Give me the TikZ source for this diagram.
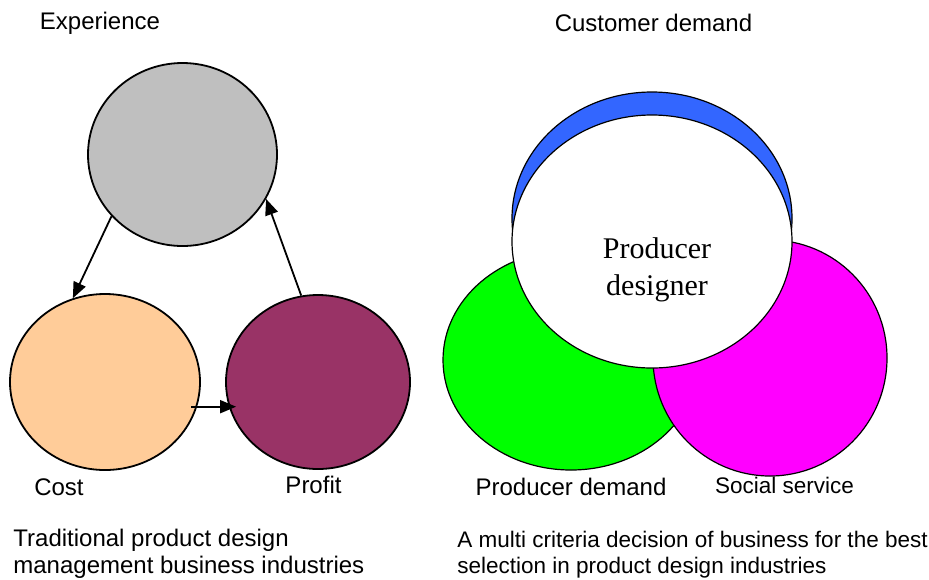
\documentclass[tikz,border=0pt]{standalone}
\usepackage{fontspec}
\setmainfont{Liberation Sans}
\newfontfamily\timesfont{Liberation Serif}
\usepackage{tikz}
\usetikzlibrary{arrows.meta,shapes.geometric,positioning}
\colorlet{silvergray}{black!25}
\definecolor{peach}{HTML}{FFCC99}
\definecolor{plum}{HTML}{993366}
\definecolor{royalblue}{HTML}{3366FF}
\definecolor{brightgreen}{HTML}{00FF00}
\definecolor{brightmagenta}{HTML}{FF00FF}

\begin{document}
\begin{tikzpicture}[
    x=0.5pt, y=-0.5pt,
    >={Triangle[length=8pt,width=6.5pt]},
    blob/.style = {ellipse,draw=black,line width=0.9pt,inner sep=0pt},
    thinblob/.style = {blob,line width=0.6pt},
    lbl/.style = {inner sep=0pt,font=\fontsize{12}{13.5}\selectfont},
    smalllbl/.style = {inner sep=0pt,font=\fontsize{11.25}{13}\selectfont},
    arr/.style = {->,line width=0.9pt}
    ]
    \useasboundingbox (0,0) rectangle (929,579);
    % Left cycle
    \node[blob,fill=silvergray,minimum width=94.5pt,minimum height=91.5pt] (exp) at (182.5,154.5) {};
    \node[blob,fill=peach,minimum width=95pt,minimum height=88pt] (cost) at (105,382) {};
    \node[blob,fill=plum,minimum width=92pt,minimum height=87pt] (profit) at (318,382) {};
    \draw[arr] (exp.221.6) to (cost.111.4);
    \draw[arr] ([xshift=-3pt]cost.-15) to ([xshift=5.5pt]cost.-15 -| profit.west);
    \draw[arr] (profit.101.4) to (exp.-28);
    % Right overlap
    \node[thinblob,fill=royalblue,minimum width=140pt,minimum height=126.5pt] (custdem) at (652,218.5) {};
    \node[thinblob,fill=brightgreen,minimum width=128pt,minimum height=110pt] (prodem) at (571,360) {};
    \node[thinblob,fill=brightmagenta,minimum width=117pt,minimum height=118pt] (social) at (770,358) {};
    \node[thinblob,fill=white,minimum width=140pt,minimum height=126.5pt] (designer) at (652,241.5) {};
    \node[inner sep=0pt,align=center,anchor=north,font=\timesfont\fontsize{15}{18.5}\selectfont]
      (designertext) at (657,237) {Producer\\designer};
    % Labels
    \node[lbl] (explbl) at (100,23) {Experience};
    \node[lbl,below=3.5pt of cost,xshift=-23pt] (costlbl) {Cost};
    \node[lbl,below=3pt of profit,xshift=-2.25pt] (profitlbl) {Profit};
    \node[lbl] (custlbl) at (653.5,23) {Customer demand};
    \node[lbl,below=3.5pt of prodem] (prodemlbl) {Producer demand};
    \node[smalllbl,below=0pt of social,xshift=7.25pt] (sociallbl) {Social service};
    % Captions
    \node[lbl,align=left,anchor=north west] (leftcap) at (13,529)
      {Traditional product design\\management business industries};
    \node[smalllbl,align=left,anchor=north west] (rightcap) at (457,531)
      {A multi criteria decision of business for the best\\selection in product design industries};
  \end{tikzpicture}
\end{document}
